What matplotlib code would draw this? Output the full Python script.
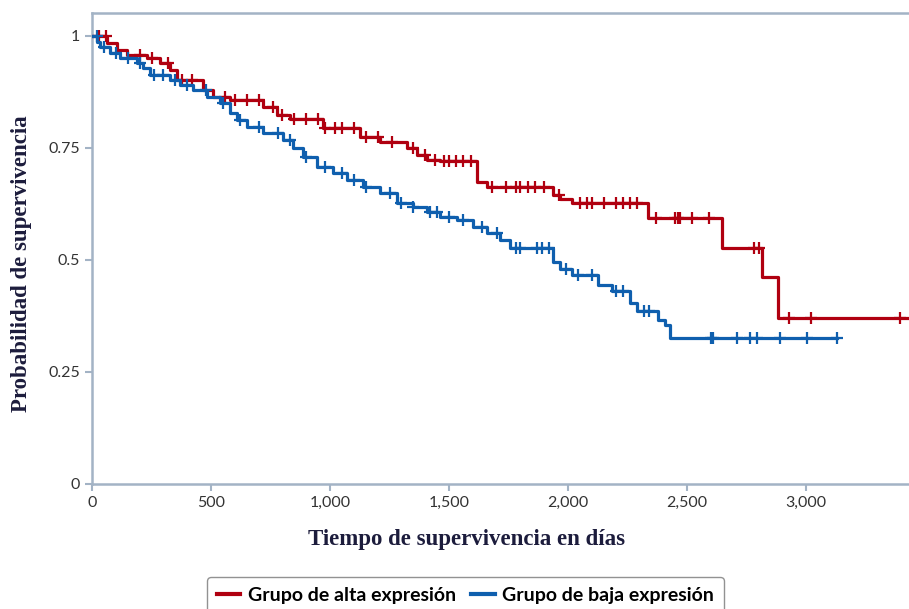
import numpy as np
import matplotlib.pyplot as plt
from matplotlib.ticker import FuncFormatter

# Kaplan-Meier step data (days, survival)
alta_t = [0, 63, 105, 147, 231, 286, 328, 357, 466, 508, 580, 718, 777, 832, 970,
          1126, 1210, 1323, 1365, 1408, 1462, 1618, 1660, 1937, 1966, 2017, 2336,
          2647, 2815, 2882, 3440]
alta_s = [1.0, 0.984, 0.969, 0.958, 0.95, 0.94, 0.924, 0.902, 0.879, 0.864, 0.857,
          0.842, 0.824, 0.815, 0.795, 0.775, 0.763, 0.75, 0.734, 0.723, 0.72, 0.674,
          0.663, 0.645, 0.636, 0.627, 0.594, 0.527, 0.462, 0.37, 0.37]

baja_t = [0, 21, 34, 76, 118, 189, 214, 244, 328, 370, 424, 483, 538, 580, 609, 651,
          718, 802, 845, 887, 945, 1013, 1071, 1139, 1210, 1282, 1349, 1408, 1462,
          1534, 1601, 1660, 1714, 1756, 1937, 1966, 2017, 2126, 2185, 2260, 2290,
          2378, 2407, 2429, 3130]
baja_s = [1.0, 0.987, 0.975, 0.962, 0.95, 0.94, 0.928, 0.913, 0.902, 0.89, 0.879,
          0.864, 0.85, 0.828, 0.812, 0.797, 0.783, 0.768, 0.75, 0.73, 0.708, 0.694,
          0.678, 0.663, 0.649, 0.627, 0.618, 0.607, 0.596, 0.589, 0.574, 0.56, 0.545,
          0.527, 0.495, 0.48, 0.466, 0.445, 0.43, 0.405, 0.385, 0.366, 0.355, 0.326,
          0.326]

# censored observations
alta_cens = [30, 60, 200, 250, 320, 380, 420, 560, 600, 650, 700, 760, 800, 850, 900,
             950, 980, 1020, 1050, 1100, 1150, 1200, 1260, 1350, 1400, 1440, 1480,
             1500, 1530, 1560, 1590, 1680, 1740, 1780, 1800, 1830, 1860, 1900, 1960,
             2050, 2080, 2100, 2150, 2200, 2230, 2260, 2290, 2370, 2450, 2460, 2470,
             2520, 2590, 2780, 2800, 2930, 3020, 3395]
baja_cens = [20, 50, 100, 150, 200, 260, 300, 350, 400, 480, 550, 620, 700, 780, 830,
             900, 980, 1050, 1100, 1150, 1250, 1300, 1350, 1420, 1450, 1500, 1560,
             1640, 1700, 1780, 1800, 1870, 1890, 1920, 1990, 2040, 2100, 2200, 2230,
             2320, 2340, 2600, 2610, 2710, 2765, 2795, 2890, 3005, 3130]

labels = ["Grupo de alta expresión", "Grupo de baja expresión"]
colors = ["#b00010", "#0f5fae"]


def step_at(t, s, x):
    idx = np.searchsorted(t, x, side="right") - 1
    return np.array(s)[idx]


fig = plt.figure(figsize=(9.09, 6.09), dpi=100)
ax = fig.add_axes([0.1012, 0.2053, 0.8988, 0.7734])

for t, s, cens, c, lab in [(alta_t, alta_s, alta_cens, colors[0], labels[0]),
                           (baja_t, baja_s, baja_cens, colors[1], labels[1])]:
    ax.step(t, s, where="post", color=c, lw=2.3, label=lab, zorder=3)
    ax.plot(cens, step_at(t, s, cens), ls="none", marker="+", ms=9, mew=1.6,
            color=c, zorder=3)

ax.set_xlim(0, 3432)
ax.set_ylim(0, 1.0513)
ax.set_yticks([0, 0.25, 0.5, 0.75, 1])
ax.set_yticklabels(["0", "0.25", "0.5", "0.75", "1"])
ax.set_xticks([0, 500, 1000, 1500, 2000, 2500, 3000])
ax.xaxis.set_major_formatter(FuncFormatter(lambda v, p: f"{int(v):,}"))

spine_c = "#a3b3c5"
for side in ["left", "bottom", "top"]:
    ax.spines[side].set_color(spine_c)
    ax.spines[side].set_linewidth(1.8)
ax.spines["right"].set_visible(False)
ax.tick_params(colors=spine_c, width=1.5, length=5, labelcolor="#333333",
               labelsize=11.5)
for lbl in ax.get_xticklabels() + ax.get_yticklabels():
    lbl.set_family("Lato")

ax.set_xlabel("Tiempo de supervivencia en días", family="Liberation Serif",
              fontweight="bold", fontsize=16.5, color="#1c1c3c")
ax.set_ylabel("Probabilidad de supervivencia", family="Liberation Serif",
              fontweight="bold", fontsize=16.5, color="#1c1c3c")
ax.xaxis.set_label_coords(0.4578, -0.096)
ax.yaxis.set_label_coords(-0.074, 0.468)

leg = fig.legend(loc="upper center", bbox_to_anchor=(0.512, 0.068), ncol=2,
                 frameon=True, fancybox=True, edgecolor="#777777",
                 prop={"family": "Lato", "size": 14, "weight": "bold"},
                 handlelength=1.2, handletextpad=0.4, columnspacing=0.8,
                 borderpad=0.5)
for h in leg.legend_handles:
    h.set_linewidth(3)

fig.savefig("out.png", dpi=100)
